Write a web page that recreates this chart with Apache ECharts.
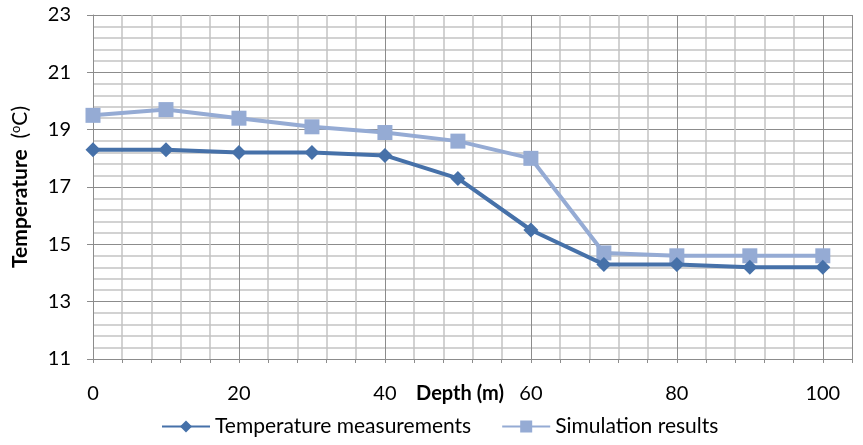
<!DOCTYPE html>
<html>
<head>
<meta charset="utf-8">
<script src="https://cdn.jsdelivr.net/npm/echarts@6/dist/echarts.min.js"></script>
<style>
  html, body { margin: 0; padding: 0; background: #fff; }
  #chart { width: 863px; height: 445px; }
</style>
</head>
<body>
<div id="chart"></div>
<script>
// depth (m)
const depths = [0, 10, 20, 30, 40, 50, 60, 70, 80, 90, 100];
// temperature (oC)
const measured = [18.3, 18.3, 18.2, 18.2, 18.1, 17.3, 15.5, 14.3, 14.3, 14.2, 14.2];
const simulated = [19.5, 19.7, 19.4, 19.1, 18.9, 18.6, 18.0, 14.7, 14.6, 14.6, 14.6];
const xLabels = [0, 20, 40, 60, 80, 100];
const yLabels = [11, 13, 15, 17, 19, 21, 23];

const chart = echarts.init(document.getElementById("chart"));

const font = "Lato, 'Liberation Sans', sans-serif";
const majorGrid = "#8c8c8c";
const minorGrid = "#c4c4c4";

const option = {
  animation: false,
  textStyle: { fontFamily: font },
  grid: { left: 93, right: 11, top: 15, bottom: 86 },
  legend: {
    bottom: 3,
    left: 156,
    itemWidth: 48,
    itemHeight: 15,
    itemGap: 30,
    textStyle: { fontSize: 21, color: "#000", fontFamily: font },
    data: ["Temperature measurements", "Simulation results"],
  },
  xAxis: {
    type: "value",
    min: 0,
    max: 104,
    interval: 20,
    name: "Depth (m)",
    nameLocation: "middle",
    nameGap: 25,
    nameMoveOverlap: false,
    nameTextStyle: {
      fontSize: 20, fontWeight: "bold", color: "#000",
      verticalAlign: "top", padding: [0, 25, 0, 0],
    },
    axisLine: { show: true, onZero: false, lineStyle: { color: majorGrid, width: 1 } },
    axisTick: { show: true, length: 4, lineStyle: { color: majorGrid } },
    minorTick: { show: true, splitNumber: 5, length: 4, lineStyle: { color: majorGrid } },
    axisLabel: {
      fontSize: 20,
      color: "#000",
      margin: 25,
      formatter: (v) => (xLabels.includes(v) ? String(v) : ""),
    },
    splitLine: { show: true, lineStyle: { color: majorGrid, width: 1 } },
    minorSplitLine: { show: true, lineStyle: { color: minorGrid, width: 1.5 } },
  },
  yAxis: {
    type: "value",
    min: 11,
    max: 23,
    interval: 2,
    name: "{b|Temperature}{n|  (}{s|o}{n|C)}",
    nameLocation: "middle",
    nameGap: 62,
    nameRotate: 90,
    nameTextStyle: {
      rich: {
        b: { fontSize: 21, fontWeight: "bold", color: "#000", fontFamily: font },
        n: { fontSize: 21, color: "#000", fontFamily: font },
        s: { fontSize: 13, color: "#000", fontFamily: font, verticalAlign: "top", padding: [0, 0, 9, 0] },
      },
    },
    axisLine: { show: true, lineStyle: { color: majorGrid, width: 1 } },
    axisTick: { show: true, length: 6, lineStyle: { color: majorGrid } },
    axisLabel: {
      fontSize: 20,
      color: "#000",
      margin: 22,
      formatter: (v) => (yLabels.includes(v) ? String(v) : ""),
    },
    splitLine: { show: true, lineStyle: { color: majorGrid, width: 1 } },
    minorTick: { show: false, splitNumber: 5 },
    minorSplitLine: { show: true, lineStyle: { color: minorGrid, width: 1.5 } },
  },
  series: [
    {
      name: "Temperature measurements",
      type: "line",
      data: depths.map((d, i) => [d, measured[i]]),
      symbol: "diamond",
      symbolSize: 15,
      lineStyle: { color: "#4671a9", width: 4 },
      itemStyle: { color: "#4671a9" },
      z: 3,
    },
    {
      name: "Simulation results",
      type: "line",
      data: depths.map((d, i) => [d, simulated[i]]),
      symbol: "rect",
      symbolSize: 15,
      lineStyle: { color: "#95abd4", width: 4 },
      itemStyle: { color: "#95abd4" },
      z: 2,
    },
  ],
};

chart.setOption(option);
</script>
</body>
</html>
